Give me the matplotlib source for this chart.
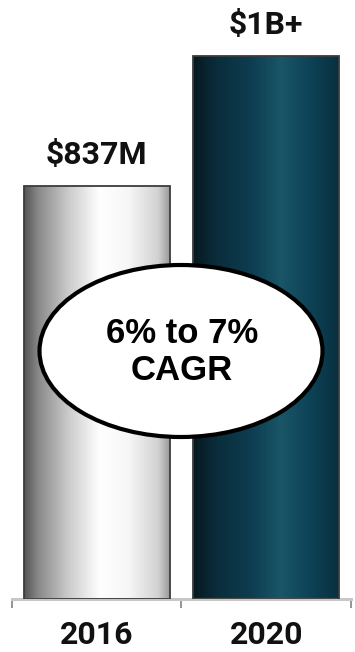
import numpy as np
import matplotlib
matplotlib.use("Agg")
import matplotlib.pyplot as plt
from matplotlib.colors import LinearSegmentedColormap
from matplotlib.patches import Ellipse

# market size by year
years = ["2016", "2020"]
values = [837, 1100]
value_labels = ["$837M", "$1B+"]
cagr_text = "6% to 7%\nCAGR"

# horizontal shading for each bar (left edge -> right edge)
silver = LinearSegmentedColormap.from_list("silver", [
    (0.00, "#555555"), (0.10, "#8a8a8a"), (0.30, "#cacaca"),
    (0.52, "#ffffff"), (0.72, "#f6f6f6"), (0.92, "#d2d2d2"), (1.00, "#9a9a9a")])
teal = LinearSegmentedColormap.from_list("teal", [
    (0.00, "#061820"), (0.15, "#0a2c3a"), (0.40, "#0d3d50"),
    (0.60, "#1a5568"), (0.80, "#0d4357"), (1.00, "#08303f")])
cmaps = [silver, teal]

label_font = dict(fontsize=23, fontweight="bold", family="Roboto", color="#111111")

fig = plt.figure(figsize=(3.55, 6.52), dpi=100)
ax = fig.add_axes([12 / 355, 53 / 652, 339 / 355, 592 / 652])
ax.set_xlim(-0.5, 1.5)
ax.set_ylim(0, 1200)

width = 0.86
bars = ax.bar(range(len(values)), values, width=width, color="none",
              edgecolor="#3c3c3c", linewidth=1.3, zorder=3)

grad = np.linspace(0, 1, 256).reshape(1, -1)
for bar, cm in zip(bars, cmaps):
    x0 = bar.get_x()
    h = bar.get_height()
    im = ax.imshow(grad, extent=(x0, x0 + bar.get_width(), 0, h),
                   aspect="auto", cmap=cm, zorder=2, interpolation="bilinear")
    im.set_clip_path(bar)

for i, (v, lab) in enumerate(zip(values, value_labels)):
    ax.annotate(lab, (i, v), xytext=(0, 31), textcoords="offset pixels",
                ha="center", va="center", **label_font)

ax.set_xlim(-0.5, 1.5)
ax.set_ylim(0, 1200)

for s in ["top", "left", "right"]:
    ax.spines[s].set_visible(False)
ax.spines["bottom"].set_color("#c8c8c8")
ax.spines["bottom"].set_linewidth(2.2)
ax.set_yticks([])

ax.set_xticks([0, 1])
ax.set_xticklabels(years, **label_font)
ax.tick_params(axis="x", which="major", length=0, pad=15)
ax.set_xticks([-0.5, 0.5, 1.5], minor=True)
ax.tick_params(axis="x", which="minor", length=6.5, width=1.3, color="#8c8c8c")

# CAGR callout over both bars
ell = Ellipse((181 / 355, 1 - 351 / 652), 283 / 355, 172 / 652,
              transform=fig.transFigure, facecolor="white", edgecolor="black",
              linewidth=3, zorder=5)
fig.patches.append(ell)
fig.text(182 / 355, 1 - 352 / 652, cagr_text, ha="center", va="center",
         fontsize=25, fontweight="bold", family="Liberation Sans",
         linespacing=1.15, zorder=6)

fig.savefig("out.png", dpi=100)
